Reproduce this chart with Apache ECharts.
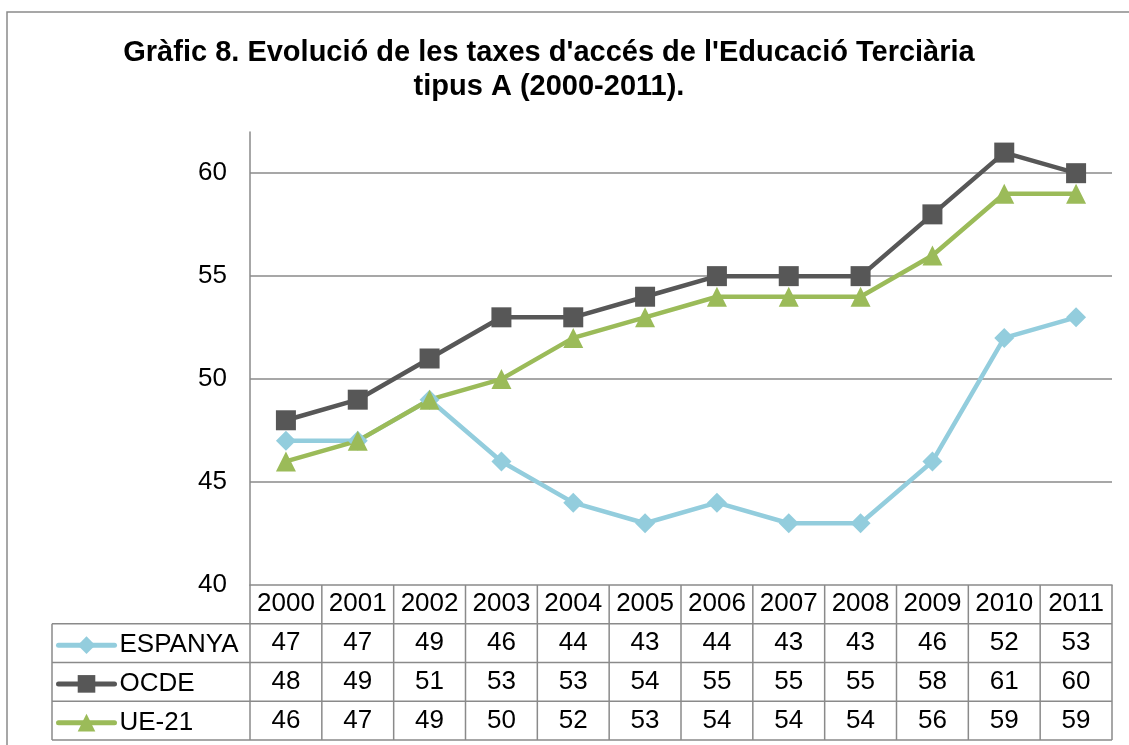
<!DOCTYPE html>
<html><head><meta charset="utf-8">
<script src="https://cdn.jsdelivr.net/npm/echarts@6/dist/echarts.min.js"></script>
<style>html,body{margin:0;padding:0;background:#fff}#c{width:1129px;height:745px}</style>
</head><body><div id="c"></div>
<script>
// ---- data ----
const years = ['2000','2001','2002','2003','2004','2005','2006','2007','2008','2009','2010','2011'];
const espanya = [47,47,49,46,44,43,44,43,43,46,52,53];
const ocde    = [48,49,51,53,53,54,55,55,55,58,61,60];
const ue21    = [46,47,49,50,52,53,54,54,54,56,59,59];
const seriesNames = ['ESPANYA','OCDE','UE-21'];
const yMin = 40, yMax = 62, yStep = 5;
const titleText = "Gràfic 8. Evolució de les taxes d'accés de l'Educació Terciària\ntipus A (2000-2011).";

// ---- styles ----
const FONT = "'Liberation Sans', Arial, sans-serif";
const GRID_COLOR = '#8a8a8a';
const FS = 26;
const seriesStyle = [
  {color:'#93CDDD', symbol:'diamond', size:20},
  {color:'#575757', symbol:'rect', size:20},
  {color:'#9BBB59', symbol:'triangle', size:20}
];
const seriesData = [espanya, ocde, ue21];
const ROW_H = 38.75;
const TABLE_LEFT = 52;

const chart = echarts.init(document.getElementById('c'), null, {renderer:'canvas'});

const option = {
  backgroundColor:'#fff',
  animation:false,
  textStyle:{fontFamily:FONT},
  title:{
    text:titleText, left:544, top:31, textAlign:'center',
    textStyle:{fontFamily:FONT, fontSize:29, fontWeight:'bold', color:'#000', lineHeight:34}
  },
  grid:{left:250, right:17, top:132, bottom:160, containLabel:false},
  xAxis:{
    type:'category', data:years, boundaryGap:true,
    axisLine:{show:true, lineStyle:{color:GRID_COLOR, width:1.5}},
    axisTick:{show:false},
    axisLabel:{fontFamily:FONT, fontSize:FS, color:'#000', margin:19, verticalAlign:'middle', interval:0}
  },
  yAxis:{
    type:'value', min:yMin, max:yMax, interval:yStep,
    axisLine:{show:true, lineStyle:{color:GRID_COLOR, width:1.5}},
    axisTick:{show:false},
    axisLabel:{fontFamily:FONT, fontSize:FS, color:'#000', margin:23, showMaxLabel:false},
    splitLine:{show:true, showMaxLine:false, showMinLine:false, lineStyle:{color:GRID_COLOR, width:1.5}}
  },
  legend: seriesNames.map((n,i)=>({
    data:[n], orient:'vertical', left:56, top:585 + ROW_H*(i+1) + ROW_H/2 - 11, padding:0,
    itemWidth:56, itemHeight:22, itemGap:0, selectedMode:false,
    lineStyle:{width:5, cap:'round'},
    textStyle:{fontFamily:FONT, fontSize:FS, color:'#000', lineHeight:22}
  })),
  series: seriesNames.map((n,i)=>({
    name:n, type:'line', data:seriesData[i],
    symbol:seriesStyle[i].symbol, symbolSize:seriesStyle[i].size,
    lineStyle:{color:seriesStyle[i].color, width:4.5},
    itemStyle:{color:seriesStyle[i].color},
    emphasis:{disabled:true}
  }))
};
chart.setOption(option);

// ---- data table drawn from the axis scale ----
function buildTable(){
  const y0 = chart.convertToPixel({yAxisIndex:0}, yMin);
  const centers = years.map((y)=>chart.convertToPixel({xAxisIndex:0}, y));
  const colW = centers.length>1 ? centers[1]-centers[0] : 72;
  const xL = centers[0]-colW/2, xR = centers[centers.length-1]+colW/2;
  const rowsBottom = y0 + ROW_H*(seriesNames.length+1);
  const g = [];
  const ls = {stroke:GRID_COLOR, lineWidth:1.5};
  // outer frame of the chart area
  g.push({type:'rect', shape:{x:7, y:12, width:1300, height:900}, style:{fill:null, stroke:GRID_COLOR, lineWidth:1.5}, silent:true});
  // vertical lines header row + data rows
  for(let k=0;k<=centers.length;k++){
    const x = xL + k*colW;
    g.push({type:'line', shape:{x1:x, y1:y0, x2:x, y2:rowsBottom}, style:ls, silent:true});
  }
  g.push({type:'line', shape:{x1:TABLE_LEFT, y1:y0+ROW_H, x2:TABLE_LEFT, y2:rowsBottom}, style:ls, silent:true});
  // horizontal lines
  for(let r=1;r<=seriesNames.length+1;r++){
    const y = y0 + r*ROW_H;
    g.push({type:'line', shape:{x1:TABLE_LEFT, y1:y, x2:xR, y2:y}, style:ls, silent:true});
  }
  // values
  seriesData.forEach((arr,r)=>{
    const cy = y0 + ROW_H*(r+1) + ROW_H/2;
    arr.forEach((v,c)=>{
      g.push({type:'text', x:centers[c], y:cy, silent:true,
        style:{text:String(v), font:FS+'px '+FONT, fill:'#000', align:'center', verticalAlign:'middle'}});
    });
  });
  chart.setOption({graphic:g});
}
buildTable();
</script></body></html>
